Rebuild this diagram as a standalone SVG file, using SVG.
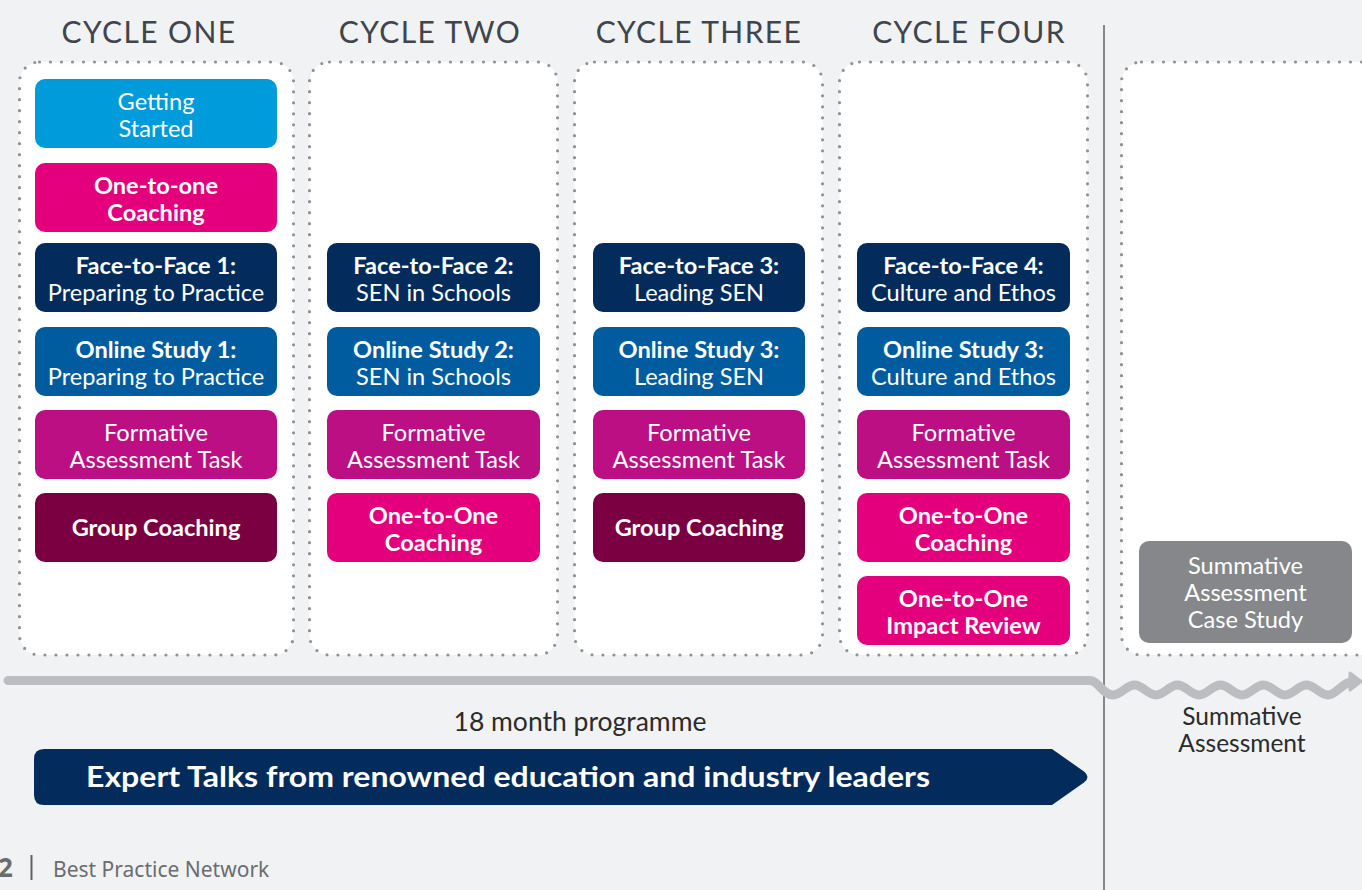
<svg xmlns="http://www.w3.org/2000/svg" width="1362" height="890" viewBox="0 0 1362 890">
<defs>
<style>
.bg{fill:#f1f2f4}
.cont{fill:#ffffff;stroke:#909296;stroke-width:3.2;stroke-linecap:round;stroke-dasharray:0 11}
.hdr{font-family:Lato,"Liberation Sans",sans-serif;font-size:30px;fill:#40444b;text-anchor:middle;letter-spacing:1.4px}
.box{stroke:none}
.t{font-family:Lato,"Liberation Sans",sans-serif;font-size:23.6px;fill:#ffffff;text-anchor:middle}
.b{font-weight:700}
.c-start{fill:#009bdb}
.c-pink{fill:#e4007c}
.c-f2f{fill:#032c5c}
.c-online{fill:#005c9e}
.c-form{fill:#bb0f83}
.c-group{fill:#7b0042}
.c-sum{fill:#85878a}
.time{fill:none;stroke:#bcbdc0;stroke-width:9;stroke-linecap:round;stroke-linejoin:round}
.lbl{font-family:Lato,"Liberation Sans",sans-serif;font-size:26.5px;fill:#2b2b2b;text-anchor:middle}
.lbl2{font-family:Lato,"Liberation Sans",sans-serif;font-size:24.5px;fill:#2b2b2b;text-anchor:middle}
.banner{fill:#032c5c}
.bt{font-family:Lato,"Liberation Sans",sans-serif;font-size:29px;font-weight:700;fill:#ffffff}
.foot{font-family:"Noto Sans","Liberation Sans",sans-serif;fill:#6b6c70}
</style>
</defs>
<rect class="bg" x="0" y="0" width="1362" height="890"/>

<g id="headers">
<text class="hdr" x="149" y="43">CYCLE ONE</text>
<text class="hdr" x="430" y="43">CYCLE TWO</text>
<text class="hdr" x="699" y="43">CYCLE THREE</text>
<text class="hdr" x="969" y="43">CYCLE FOUR</text>
</g>

<line x1="1104" y1="25" x2="1104" y2="890" stroke="#5f6368" stroke-width="1.5"/>

<g id="cycle-one">
<rect class="cont" x="19.5" y="62" width="274" height="593" rx="20"/>
</g>
<g id="cycle-two">
<rect class="cont" x="309.5" y="62" width="248" height="593" rx="20"/>
</g>
<g id="cycle-three">
<rect class="cont" x="574.5" y="62" width="248" height="593" rx="20"/>
</g>
<g id="cycle-four">
<rect class="cont" x="839.5" y="62" width="248" height="593" rx="20"/>
</g>
<g id="summative-stage">
<rect class="cont" x="1121.5" y="62" width="280" height="593" rx="20"/>
</g>

<g id="getting-started">
<rect class="box c-start" x="35" y="79" width="242" height="69" rx="10"/>
<text class="t" x="156" y="110">Getting</text>
<text class="t" x="156" y="137">Started</text>
</g>
<g id="one-to-one-c1">
<rect class="box c-pink" x="35" y="163" width="242" height="69" rx="10"/>
<text class="t b" x="156" y="194">One-to-one</text>
<text class="t b" x="156" y="221">Coaching</text>
</g>
<g id="f2f-1">
<rect class="box c-f2f" x="35" y="243" width="242" height="69" rx="10"/>
<text class="t b" x="156" y="273.5">Face-to-Face 1:</text>
<text class="t" x="156" y="300.5">Preparing to Practice</text>
</g>
<g id="online-1">
<rect class="box c-online" x="35" y="327" width="242" height="69" rx="10"/>
<text class="t b" x="156" y="357.5">Online Study 1:</text>
<text class="t" x="156" y="384.5">Preparing to Practice</text>
</g>
<g id="formative-1">
<rect class="box c-form" x="35" y="410" width="242" height="69" rx="10"/>
<text class="t" x="156" y="441">Formative</text>
<text class="t" x="156" y="468">Assessment Task</text>
</g>
<g id="group-1">
<rect class="box c-group" x="35" y="493" width="242" height="69" rx="10"/>
<text class="t b" x="156" y="536">Group Coaching</text>
</g>

<g id="f2f-2">
<rect class="box c-f2f" x="327" y="243" width="213" height="69" rx="10"/>
<text class="t b" x="433.5" y="273.5">Face-to-Face 2:</text>
<text class="t" x="433.5" y="300.5">SEN in Schools</text>
</g>
<g id="online-2">
<rect class="box c-online" x="327" y="327" width="213" height="69" rx="10"/>
<text class="t b" x="433.5" y="357.5">Online Study 2:</text>
<text class="t" x="433.5" y="384.5">SEN in Schools</text>
</g>
<g id="formative-2">
<rect class="box c-form" x="327" y="410" width="213" height="69" rx="10"/>
<text class="t" x="433.5" y="441">Formative</text>
<text class="t" x="433.5" y="468">Assessment Task</text>
</g>
<g id="one-to-one-c2">
<rect class="box c-pink" x="327" y="493" width="213" height="69" rx="10"/>
<text class="t b" x="433.5" y="524">One-to-One</text>
<text class="t b" x="433.5" y="551">Coaching</text>
</g>

<g id="f2f-3">
<rect class="box c-f2f" x="593" y="243" width="212" height="69" rx="10"/>
<text class="t b" x="699" y="273.5">Face-to-Face 3:</text>
<text class="t" x="699" y="300.5">Leading SEN</text>
</g>
<g id="online-3">
<rect class="box c-online" x="593" y="327" width="212" height="69" rx="10"/>
<text class="t b" x="699" y="357.5">Online Study 3:</text>
<text class="t" x="699" y="384.5">Leading SEN</text>
</g>
<g id="formative-3">
<rect class="box c-form" x="593" y="410" width="212" height="69" rx="10"/>
<text class="t" x="699" y="441">Formative</text>
<text class="t" x="699" y="468">Assessment Task</text>
</g>
<g id="group-3">
<rect class="box c-group" x="593" y="493" width="212" height="69" rx="10"/>
<text class="t b" x="699" y="536">Group Coaching</text>
</g>

<g id="f2f-4">
<rect class="box c-f2f" x="857" y="243" width="213" height="69" rx="10"/>
<text class="t b" x="963.5" y="273.5">Face-to-Face 4:</text>
<text class="t" x="963.5" y="300.5">Culture and Ethos</text>
</g>
<g id="online-4">
<rect class="box c-online" x="857" y="327" width="213" height="69" rx="10"/>
<text class="t b" x="963.5" y="357.5">Online Study 3:</text>
<text class="t" x="963.5" y="384.5">Culture and Ethos</text>
</g>
<g id="formative-4">
<rect class="box c-form" x="857" y="410" width="213" height="69" rx="10"/>
<text class="t" x="963.5" y="441">Formative</text>
<text class="t" x="963.5" y="468">Assessment Task</text>
</g>
<g id="one-to-one-c4">
<rect class="box c-pink" x="857" y="493" width="213" height="69" rx="10"/>
<text class="t b" x="963.5" y="524">One-to-One</text>
<text class="t b" x="963.5" y="551">Coaching</text>
</g>
<g id="impact-review">
<rect class="box c-pink" x="857" y="576" width="213" height="69" rx="10"/>
<text class="t b" x="963.5" y="607">One-to-One</text>
<text class="t b" x="963.5" y="634">Impact Review</text>
</g>

<g id="summative-case-study">
<rect class="box c-sum" x="1139" y="541" width="213" height="102" rx="10"/>
<text class="t" x="1245.5" y="574">Summative</text>
<text class="t" x="1245.5" y="601">Assessment</text>
<text class="t" x="1245.5" y="628">Case Study</text>
</g>

<g id="connectors">
<path class="time" d="M8,680.5 H1090 C1098,680.5 1103,695 1113,695 C1121,695 1126.5,685 1134.5,685 C1142.5,685 1148,695 1156,695 C1164,695 1169.5,685 1177.5,685 C1185.5,685 1191,695 1199,695 C1207,695 1212.5,685 1220.5,685 C1228.5,685 1234,695 1242,695 C1250,695 1255.5,685 1263.5,685 C1271.5,685 1277,695 1285,695 C1293,695 1298.5,685 1306.5,685 C1314.5,685 1320,695 1328,695 C1336,695 1342,683 1352,681.5"/>
<path d="M1350,673 L1361,681.5 L1350,690 Z" fill="#bcbdc0" stroke="#bcbdc0" stroke-width="3" stroke-linejoin="round"/>
</g>

<g id="programme-label">
<text class="lbl" x="580" y="731">18 month programme</text>
</g>
<g id="summative-label">
<text class="lbl2" x="1242" y="725">Summative</text>
<text class="lbl2" x="1242" y="752">Assessment</text>
</g>

<g id="expert-talks">
<path class="banner" d="M44,749 H1052 L1084,771.5 Q1091,777 1084,782.5 L1052,805 H44 Q34,805 34,795 V759 Q34,749 44,749 Z"/>
<text class="bt" x="86" y="787" textLength="844" lengthAdjust="spacingAndGlyphs">Expert Talks from renowned education and industry leaders</text>
</g>

<g id="footer">
<text class="foot" x="-2" y="877" font-size="26" font-weight="700" fill="#3f434a">2</text>
<line x1="31.5" y1="855" x2="31.5" y2="880" stroke="#5f6368" stroke-width="2"/>
<text class="foot" x="53" y="877" font-size="21">Best Practice Network</text>
</g>
</svg>
